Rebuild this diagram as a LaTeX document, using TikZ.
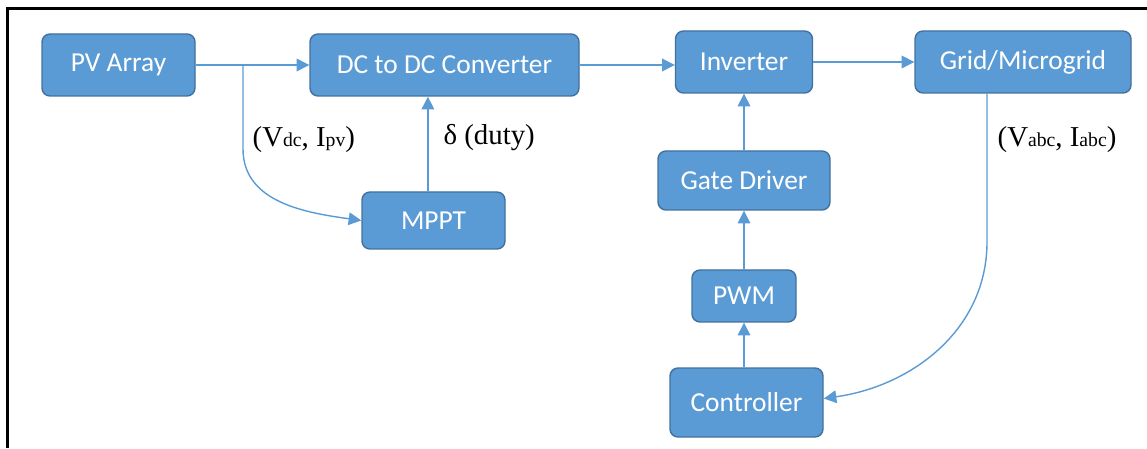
\documentclass[tikz,border=0pt]{standalone}
\usepackage{fontspec}
\setmainfont{Liberation Serif}
\newfontfamily\boxfont{Carlito}
\usetikzlibrary{arrows.meta,positioning}
\definecolor{blockblue}{HTML}{5B9BD5}
\definecolor{blockedge}{HTML}{41719C}
\newcommand{\sbs}[1]{{\fontsize{14}{14}\selectfont #1}}
\tikzset{
  block/.style={draw=blockedge, line width=1pt, fill=blockblue, rounded corners=0.2cm,
    text=white, font=\boxfont\fontsize{19.5}{23}\selectfont, inner sep=0pt, align=center},
  link/.style={draw=blockblue, line width=1pt, -{Triangle[length=9pt,width=9pt]}},
  lbl/.style={font=\fontsize{20.5}{24}\selectfont, inner sep=0pt, text=black}
}
\begin{document}
\begin{tikzpicture}
  \useasboundingbox (0,0) rectangle (28.675,11.2);
  % frame
  \draw[line width=2.6pt] (0.1875,0) -- (0.1875,10.9875) -- (28.675,10.9875);

  % top row
  \node[block, minimum width=3.825cm, minimum height=1.55cm] (pv) at (2.9625,9.575) {PV Array};
  \node[block, minimum width=6.725cm, minimum height=1.55cm] (dc) at (11.1125,9.575) {DC to DC Converter};
  \node[block, minimum width=3.425cm, minimum height=1.55cm] (inv) at (18.6,9.65) {Inverter};
  \node[block, minimum width=5.4cm, minimum height=1.55cm] (grid) at (25.575,9.65) {Grid/Microgrid};

  % lower blocks
  \node[block, minimum width=3.575cm, minimum height=1.425cm] (mppt) at (10.8375,5.6875) {MPPT};
  \node[block, minimum width=4.3cm, minimum height=1.475cm] (gate) at (18.6,6.6875) {Gate Driver};
  \node[block, minimum width=2.6cm, minimum height=1.3cm] (pwm) at (18.6,3.8) {PWM};
  \node[block, minimum width=3.825cm, minimum height=1.725cm] (ctrl) at (18.6625,1.1375) {Controller};

  \coordinate (br) at (6.075,9.575);
  \coordinate (duty) at ([xshift=-0.14cm]mppt.north);
  \coordinate (gtap) at ([xshift=-0.9cm]grid.south);

  % power path
  \draw[link] (pv) -- (dc);
  \draw[link] (dc.east) -- (dc.east -| inv.west);
  \draw[link] (inv.east) -- (inv.east -| grid.west);

  % measurement and control
  \draw[link] (br) -- ++(0,-2.1) node[lbl, pos=0.89, right=0.225cm]{(V\sbs{dc}, I\sbs{pv})}
    to[out=-90, in=172] (mppt.west);
  \draw[link] (duty) -- (duty |- dc.south) node[lbl, pos=0.57, right=0.375cm]{δ (duty)};
  \draw[link] (gtap) -- ++(0,-3.7) node[lbl, pos=0.31, right=0.25cm]{(V\sbs{abc}, I\sbs{abc})}
    to[out=-90, in=8] ([yshift=0.1cm]ctrl.east);
  \draw[link] (pwm |- ctrl.north) -- (pwm);
  \draw[link] (pwm) -- (gate);
  \draw[link] (gate) -- (inv);
\end{tikzpicture}
\end{document}
